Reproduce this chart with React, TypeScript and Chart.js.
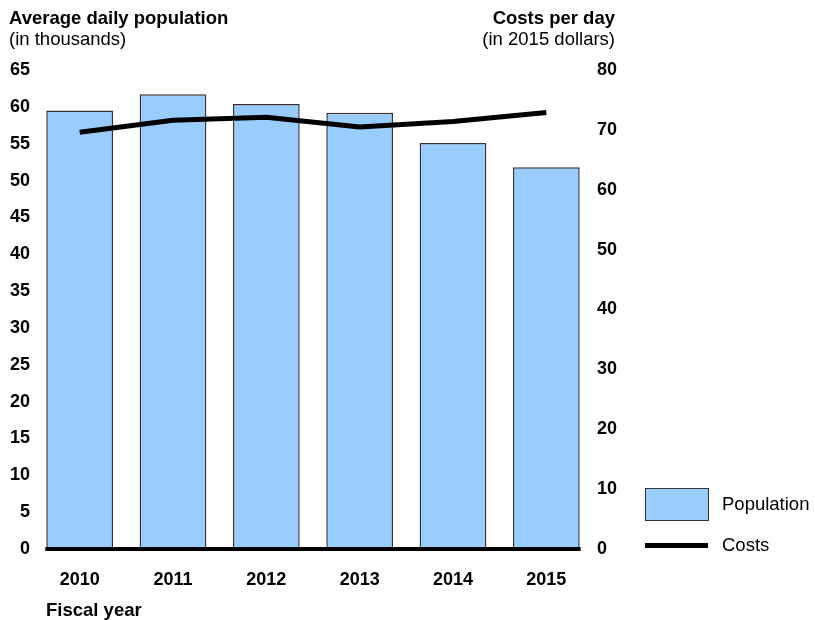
import React, { useEffect, useRef } from "react";
import { Chart, registerables } from "chart.js";

Chart.register(...registerables);

const years = ["2010", "2011", "2012", "2013", "2014", "2015"];
const population = [59.5, 61.7, 60.4, 59.2, 55.1, 51.8];
const costs = [69.6, 71.6, 72.1, 70.5, 71.4, 72.9];
const leftMax = 65;
const leftStep = 5;
const rightMax = 80;
const rightStep = 10;

const FONT = '"Liberation Sans", Arial, Helvetica, sans-serif';
const BAR_FILL = "#99ccff";
const BAR_BORDER = "#333333";

const baselinePlugin = {
  id: "baseline",
  afterDatasetsDraw(chart: any) {
    const meta = chart.getDatasetMeta(1);
    const bars = meta.data;
    if (!bars.length) return;
    const first = bars[0];
    const last = bars[bars.length - 1];
    const y = chart.scales.y.getPixelForValue(0);
    const ctx = chart.ctx;
    ctx.save();
    ctx.strokeStyle = "#000";
    ctx.lineWidth = 4;
    ctx.beginPath();
    ctx.moveTo(first.x - first.width / 2 - 1, y);
    ctx.lineTo(last.x + last.width / 2 + 1, y);
    ctx.stroke();
    ctx.restore();
  },
};

export default function App() {
  const ref = useRef<HTMLCanvasElement | null>(null);

  useEffect(() => {
    if (!ref.current) return;
    const chart = new Chart(ref.current, {
      type: "bar",
      data: {
        labels: years,
        datasets: [
          {
            type: "line",
            label: "Costs",
            data: costs,
            yAxisID: "y1",
            borderColor: "#000",
            borderWidth: 5,
            pointRadius: 0,
            tension: 0,
            fill: false,
            order: 0,
          } as any,
          {
            type: "bar",
            label: "Population",
            data: population,
            yAxisID: "y",
            backgroundColor: BAR_FILL,
            borderColor: BAR_BORDER,
            borderWidth: 1.5,
            categoryPercentage: 1,
            barPercentage: 0.715,
            order: 1,
          },
        ],
      },
      options: {
        responsive: false,
        animation: false,
        layout: { padding: { top: 70, right: 192, bottom: 0, left: 0 } },
        plugins: {
          legend: { display: false },
          tooltip: { enabled: false },
          title: { display: false },
        },
        scales: {
          x: {
            grid: { display: false, drawTicks: false },
            border: { display: false },
            ticks: {
              color: "#000",
              padding: 20,
              font: { family: FONT, size: 18, weight: "bold" },
            },
            afterFit: (s: any) => {
              s.height = 71;
            },
          },
          y: {
            position: "left",
            min: 0,
            max: leftMax,
            grid: { display: false, drawTicks: false },
            border: { display: false },
            ticks: {
              stepSize: leftStep,
              color: "#000",
              padding: 3,
              font: { family: FONT, size: 18, weight: "bold" },
            },
            afterFit: (s: any) => {
              s.width = 33;
            },
          },
          y1: {
            position: "right",
            min: 0,
            max: rightMax,
            grid: { display: false, drawTicks: false },
            border: { display: false },
            ticks: {
              stepSize: rightStep,
              color: "#000",
              padding: 4,
              font: { family: FONT, size: 18, weight: "bold" },
            },
            afterFit: (s: any) => {
              s.width = 30;
            },
          },
        },
      },
      plugins: [baselinePlugin],
    });
    return () => chart.destroy();
  }, []);

  const text = (extra: React.CSSProperties): React.CSSProperties => ({
    position: "absolute",
    fontFamily: FONT,
    fontSize: 18.5,
    lineHeight: "20px",
    color: "#000",
    whiteSpace: "nowrap",
    ...extra,
  });

  return (
    <div style={{ position: "absolute", left: 0, top: 0, width: 815, height: 620, background: "#fff" }}>
      <canvas ref={ref} width={815} height={620} style={{ position: "absolute", left: 0, top: 0 }} />
      <div style={text({ left: 9, top: 8, fontWeight: "bold" })}>Average daily population</div>
      <div style={text({ left: 9, top: 29 })}>(in thousands)</div>
      <div style={text({ right: 815 - 615, top: 8, fontWeight: "bold", textAlign: "right" })}>Costs per day</div>
      <div style={text({ right: 815 - 615, top: 29, textAlign: "right" })}>(in 2015 dollars)</div>
      <div style={text({ left: 46, top: 600, fontWeight: "bold" })}>Fiscal year</div>
      <div
        style={{
          position: "absolute",
          left: 645,
          top: 488,
          width: 62,
          height: 31,
          background: BAR_FILL,
          border: `1px solid ${BAR_BORDER}`,
        }}
      />
      <div style={text({ left: 722, top: 494 })}>Population</div>
      <div style={{ position: "absolute", left: 645, top: 543, width: 63, height: 5, background: "#000" }} />
      <div style={text({ left: 722, top: 535 })}>Costs</div>
    </div>
  );
}
